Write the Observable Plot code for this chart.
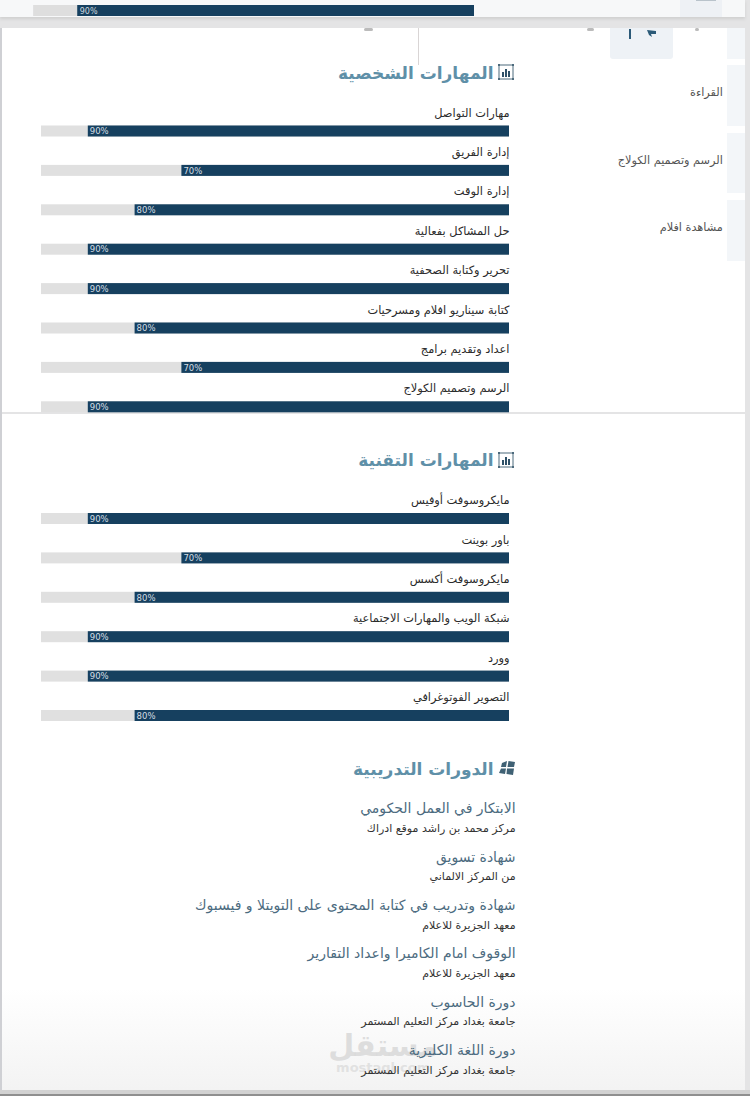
<!DOCTYPE html>
<html lang="ar"><head><meta charset="utf-8">
<script src="https://cdn.jsdelivr.net/npm/d3@7"></script>
<script src="https://cdn.jsdelivr.net/npm/@observablehq/plot@0.6"></script>
<style>
html,body{margin:0;padding:0;background:#e4e4e5;width:750px;height:1096px;overflow:hidden}
#page{position:relative;width:750px;height:1096px;overflow:hidden}
.c{position:absolute}
#chart{position:absolute;left:0;top:0}
#chart svg{background:transparent;display:block}
</style></head><body>
<div id="page">
<div class="c" style="left:0;top:0;width:745px;height:17px;background:#f7f8f9;box-shadow:0 2px 3px #cfcfcf"></div>
<div class="c" style="left:680px;top:0;width:42px;height:17px;background:#eef1f5"></div>
<div class="c" style="left:696px;top:0;width:20px;height:1px;background:#b9c3cb"></div>
<div class="c" style="left:0;top:28px;width:2px;height:1068px;background:#cfd0d4"></div>
<div class="c" style="left:2px;top:28px;width:743px;height:384px;background:#fff"></div>
<div class="c" style="left:2px;top:414px;width:743px;height:676px;background:linear-gradient(#fff 0,#fff 85%,#f3f3f3 100%)"></div>
<div class="c" style="left:0;top:1090px;width:750px;height:4px;background:#d2d2d2"></div>
<div class="c" style="left:0;top:1094px;width:750px;height:2px;background:#8f8f8f"></div>
<div class="c" style="left:610px;top:28px;width:63px;height:31px;background:#eef2f6;border-radius:0 0 3px 3px"></div>
<div class="c" style="left:727px;top:28px;width:18px;height:31px;background:#f3f6f9"></div>
<div class="c" style="left:727px;top:65px;width:18px;height:61px;background:#f3f6f9"></div>
<div class="c" style="left:727px;top:133px;width:18px;height:60px;background:#f3f6f9"></div>
<div class="c" style="left:727px;top:200px;width:18px;height:61px;background:#f3f6f9"></div>
<div class="c" style="left:418px;top:28px;width:1px;height:37px;background:#d9d5d5"></div>
<div class="c" style="left:629px;top:29px;width:2px;height:10px;background:#2b5a78"></div>
<svg class="c" style="left:646px;top:28px" width="12" height="10" viewBox="0 0 12 10"><path d="M1 2 10 3 10 6 5 6 6 9 3 7Z" fill="#2b5a78"/></svg>
<div class="c" style="left:364px;top:28px;width:9px;height:3px;background:#8d8d8d;opacity:.6;border-radius:2px"></div>
<div class="c" style="left:587px;top:28px;width:7px;height:3px;background:#8d8d8d;opacity:.6;border-radius:2px"></div>
<div class="c" style="left:695px;top:28px;width:4px;height:3px;background:#8d8d8d;opacity:.6;border-radius:2px"></div>
<div id="chart"></div>
<svg class="c" style="left:497px;top:63px" width="18" height="18" viewBox="0 0 18 18"><rect x="2" y="2" width="14" height="14" fill="none" stroke="#4c6a7c" stroke-width="1"/><g fill="#4c6a7c"><rect x="1" y="1" width="2" height="2"/><rect x="15" y="1" width="2" height="2"/><rect x="1" y="15" width="2" height="2"/><rect x="15" y="15" width="2" height="2"/></g><rect x="5" y="9" width="2" height="5" fill="#2f5168"/><rect x="8" y="6" width="2" height="8" fill="#2f5168"/><rect x="11" y="8" width="2" height="6" fill="#2f5168"/></svg>
<svg class="c" style="left:497px;top:451px" width="18" height="18" viewBox="0 0 18 18"><rect x="2" y="2" width="14" height="14" fill="none" stroke="#4c6a7c" stroke-width="1"/><g fill="#4c6a7c"><rect x="1" y="1" width="2" height="2"/><rect x="15" y="1" width="2" height="2"/><rect x="1" y="15" width="2" height="2"/><rect x="15" y="15" width="2" height="2"/></g><rect x="5" y="9" width="2" height="5" fill="#2f5168"/><rect x="8" y="6" width="2" height="8" fill="#2f5168"/><rect x="11" y="8" width="2" height="6" fill="#2f5168"/></svg>
<svg class="c" style="left:498px;top:760px" width="18" height="17" viewBox="0 0 18 17"><path d="M4 3 9 1 8 7 3 7ZM10.500 1 17 2 16 7 9.500 7ZM3 8.500 8 8.500 7 14 1 13ZM9 8.500 16 8.500 15 15 8.500 14Z" fill="#3f6174"/></svg>
</div>
<script>
const stripValues = [90];
const personalSkills = ["مهارات التواصل","إدارة الفريق","إدارة الوقت","حل المشاكل بفعالية","تحرير وكتابة الصحفية","كتابة سيناريو افلام ومسرحيات","اعداد وتقديم برامج","الرسم وتصميم الكولاج"];
const personalValues = [90,70,80,90,90,80,70,90];
const technicalSkills = ["مايكروسوفت أوفيس","باور بوينت","مايكروسوفت أكسس","شبكة الويب والمهارات الاجتماعية","وورد","التصوير الفوتوغرافي"];
const technicalValues = [90,70,80,90,90,80];
const courseTitles = ["الابتكار في العمل الحكومي","شهادة تسويق","شهادة وتدريب في كتابة المحتوى على التويتلا و فيسبوك","الوقوف امام الكاميرا واعداد التقارير","دورة الحاسوب","دورة اللغة الكليزية"];
const courseProviders = ["مركز محمد بن راشد موقع ادراك","من المركز الالماني","معهد الجزيرة للاعلام","معهد الجزيرة للاعلام","جامعة بغداد مركز التعليم المستمر","جامعة بغداد مركز التعليم المستمر"];
const hobbies = ["القراءة","الرسم وتصميم الكولاج","مشاهدة افلام"];
const headings = ["المهارات الشخصية","المهارات التقنية","الدورات التدريبية"];

// page layout: row tops and steps
const rowStep = 39.4, barH = 11;
const bars = [];
const addBars = (names, vals, top) => names.forEach((n,i)=>bars.push({name:n, v:vals[i], y:top+i*rowStep}));
addBars(personalSkills, personalValues, 131);
addBars(technicalSkills, technicalValues, 518.5);
const courses = courseTitles.map((t,i)=>({t, p:courseProviders[i], y:808.5+i*48.3}));
const hob = hobbies.map((h,i)=>({h, y:92+i*67.5}));
const heads = headings.map((h,i)=>({h, y:[73,460.5,769][i]}));

// The top strip is the same kind of bar on a slightly smaller, shifted card.
const stripShift = 7.48, stripScale = 0.942;
const strip = stripValues.map(v=>({v, y:10.5, end:stripShift, track:stripShift+100*stripScale, start:stripShift+v*stripScale}));

const sans = "'DejaVu Sans',sans-serif";
const chart = Plot.plot({
  width:750, height:1096, margin:0, style:{background:"transparent", fontFamily:sans},
  x:{domain:[0,100], range:[509,41], axis:null},
  y:{domain:[0,1096], range:[0,1096], axis:null},
  marks:[
    Plot.rect(strip,{x1:"end", x2:"track", y1:d=>d.y-5.5, y2:d=>d.y+5.5, fill:"#dedede"}),
    Plot.rect(strip,{x1:"end", x2:"start", y1:d=>d.y-5.5, y2:d=>d.y+5.5, fill:"#16405f"}),
    Plot.text(strip,{x:"start", y:"y", dx:2, text:d=>d.v+"%", textAnchor:"start", fill:"#cfd8de", fontSize:8}),
    Plot.rect(bars,{x1:0, x2:100, y1:d=>d.y-barH/2, y2:d=>d.y+barH/2, fill:"#e0e0e0"}),
    Plot.rect(bars,{x1:0, x2:"v", y1:d=>d.y-barH/2, y2:d=>d.y+barH/2, fill:"#16405f"}),
    Plot.text(bars,{x:"v", y:"y", dx:1.5, text:d=>d.v+"%", textAnchor:"start", fill:"#d5dde3", fontSize:8.5}),
    Plot.text(bars,{x:0, y:d=>d.y-18.5, text:"name", textAnchor:"end", fill:"#2b2b2b", fontSize:11.4}),
    Plot.text(heads,{x:3.4, y:"y", text:"h", textAnchor:"end", fill:"#5f90a8", fontSize:17, fontWeight:"bold"}),
    // watermark sits under the last course, as in the reference
    Plot.text(["مستقل"],{x:27, y:1046, text:d=>d, textAnchor:"middle", fill:"#d6d6d6", fillOpacity:0.8, fontSize:30, fontWeight:"bold"}),
    Plot.text(["mostaql.com"],{x:27, y:1067, text:d=>d, textAnchor:"middle", fill:"#dcdcdc", fillOpacity:0.8, fontSize:13, fontWeight:"bold"}),
    Plot.text(courses,{x:-1.3, y:"y", text:"t", textAnchor:"end", fill:"#4c6b80", fontSize:14}),
    Plot.text(courses,{x:-1.3, y:d=>d.y+19.5, text:"p", textAnchor:"end", fill:"#333", fontSize:11}),
    Plot.text(hob,{x:-45.6, y:"y", text:"h", textAnchor:"end", fill:"#555", fontSize:11.3})
  ]
});
document.getElementById("chart").append(chart);
</script>
</body></html>
